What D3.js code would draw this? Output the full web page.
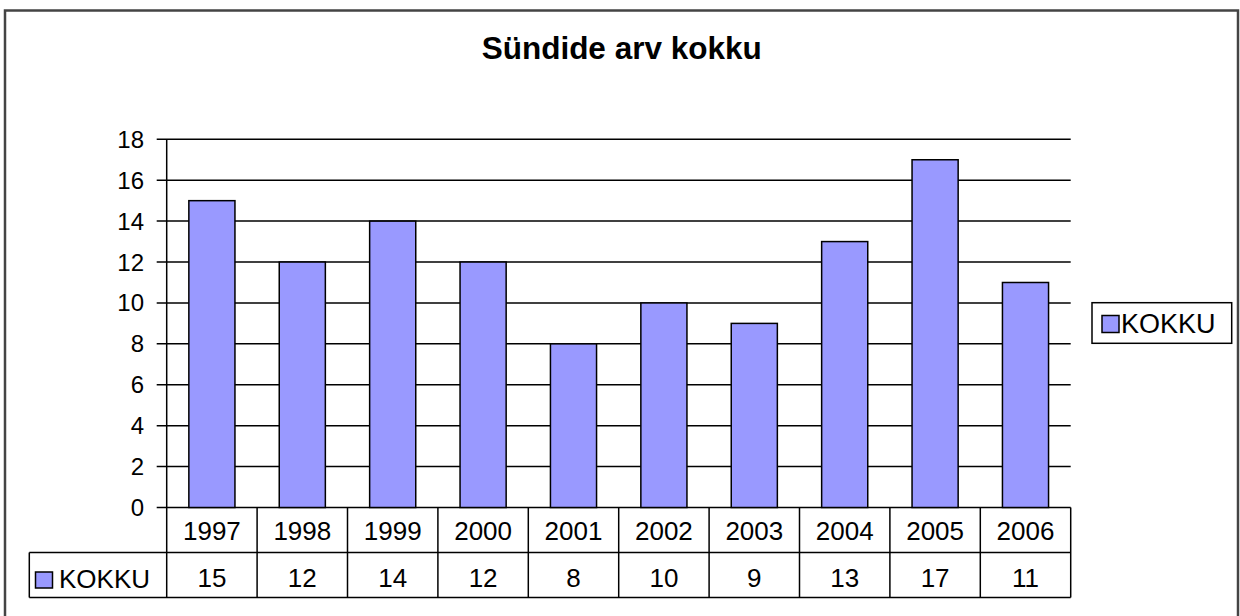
<!DOCTYPE html>
<html>
<head>
<meta charset="utf-8">
<script src="https://cdn.jsdelivr.net/npm/d3@7"></script>
<style>
  body { margin: 0; background: #fff; }
  svg { display: block; }
  text { font-family: "Liberation Sans", Arial, sans-serif; fill: #000; }
</style>
</head>
<body>
<script>
// data
const years = ["1997", "1998", "1999", "2000", "2001", "2002", "2003", "2004", "2005", "2006"]
const kokku = [15, 12, 14, 12, 8, 10, 9, 13, 17, 11]
const yTicks = [0, 2, 4, 6, 8, 10, 12, 14, 16, 18]
const seriesName = "KOKKU"
const title = "Sündide arv kokku"

const width = 1240, height = 616
const plot = { left: 166.7, right: 1070.7, top: 139.3, bottom: 507.5 }
const rowH = 45

const svg = d3.select("body").append("svg")
    .attr("width", width)
    .attr("height", height)

// outer frame
svg.append("rect")
    .attr("x", 5).attr("y", 10.5)
    .attr("width", 1233).attr("height", 620)
    .attr("fill", "#fff")
    .attr("stroke", "#444")
    .attr("stroke-width", 2.5)

// title
svg.append("text")
    .attr("x", 621.7).attr("y", 58.5)
    .attr("text-anchor", "middle")
    .style("font-size", "31.5px")
    .style("font-weight", "bold")
    .text(title)

// scales
const x = d3.scaleBand()
    .domain(years)
    .range([plot.left, plot.right])
    .padding(0)

const y = d3.scaleLinear()
    .domain([0, 18])
    .range([plot.bottom, plot.top])

// gridlines + ticks
svg.append("g").selectAll("line")
    .data(yTicks)
    .join("line")
    .attr("x1", plot.left - 10).attr("x2", plot.right)
    .attr("y1", d => y(d)).attr("y2", d => y(d))
    .attr("stroke", "#000")
    .attr("stroke-width", 1.5)

svg.append("g").selectAll("text")
    .data(yTicks)
    .join("text")
    .attr("x", 144)
    .attr("y", d => y(d) + 8.5)
    .attr("text-anchor", "end")
    .style("font-size", "24px")
    .text(d => d)

// bars
const barW = x.bandwidth() * 0.51
svg.append("g").selectAll("rect")
    .data(years)
    .join("rect")
    .attr("x", d => x(d) + (x.bandwidth() - barW) / 2)
    .attr("y", (d, i) => y(kokku[i]))
    .attr("width", barW)
    .attr("height", (d, i) => y(0) - y(kokku[i]))
    .attr("fill", "#9999FF")
    .attr("stroke", "#000")
    .attr("stroke-width", 1.5)

// y axis line (down through the table)
svg.append("line")
    .attr("x1", plot.left).attr("x2", plot.left)
    .attr("y1", plot.top).attr("y2", plot.bottom + 2 * rowH)
    .attr("stroke", "#000").attr("stroke-width", 1.5)

// data table
const table = svg.append("g")
    .attr("stroke", "#000")
    .attr("stroke-width", 1.5)

const tableLeft = 29.3
table.append("line")
    .attr("x1", tableLeft).attr("x2", plot.right)
    .attr("y1", plot.bottom + rowH).attr("y2", plot.bottom + rowH)
table.append("line")
    .attr("x1", tableLeft).attr("x2", plot.right)
    .attr("y1", plot.bottom + 2 * rowH).attr("y2", plot.bottom + 2 * rowH)
table.append("line")
    .attr("x1", tableLeft).attr("x2", tableLeft)
    .attr("y1", plot.bottom + rowH).attr("y2", plot.bottom + 2 * rowH)
table.selectAll(".col")
    .data(years)
    .join("line")
    .attr("x1", d => x(d) + x.bandwidth()).attr("x2", d => x(d) + x.bandwidth())
    .attr("y1", plot.bottom).attr("y2", plot.bottom + 2 * rowH)

svg.append("g").selectAll("text")
    .data(years)
    .join("text")
    .attr("x", d => x(d) + x.bandwidth() / 2)
    .attr("y", plot.bottom + 32)
    .attr("text-anchor", "middle")
    .style("font-size", "26px")
    .text(d => d)

svg.append("g").selectAll("text")
    .data(kokku)
    .join("text")
    .attr("x", (d, i) => x(years[i]) + x.bandwidth() / 2)
    .attr("y", plot.bottom + rowH + 34.5)
    .attr("text-anchor", "middle")
    .style("font-size", "26px")
    .text(d => d)

// table row key
svg.append("rect")
    .attr("x", 35.5).attr("y", 572)
    .attr("width", 17).attr("height", 16)
    .attr("fill", "#9999FF").attr("stroke", "#000").attr("stroke-width", 1.5)
svg.append("text")
    .attr("x", 59).attr("y", 587.5)
    .style("font-size", "26px")
    .text(seriesName)

// legend
const legend = svg.append("g")
legend.append("rect")
    .attr("x", 1092).attr("y", 302.7)
    .attr("width", 139.7).attr("height", 40.6)
    .attr("fill", "#fff").attr("stroke", "#000").attr("stroke-width", 1.5)
legend.append("rect")
    .attr("x", 1102).attr("y", 315.5)
    .attr("width", 17).attr("height", 17)
    .attr("fill", "#9999FF").attr("stroke", "#000").attr("stroke-width", 1.5)
legend.append("text")
    .attr("x", 1121).attr("y", 333)
    .style("font-size", "27px")
    .text(seriesName)
</script>
</body>
</html>
